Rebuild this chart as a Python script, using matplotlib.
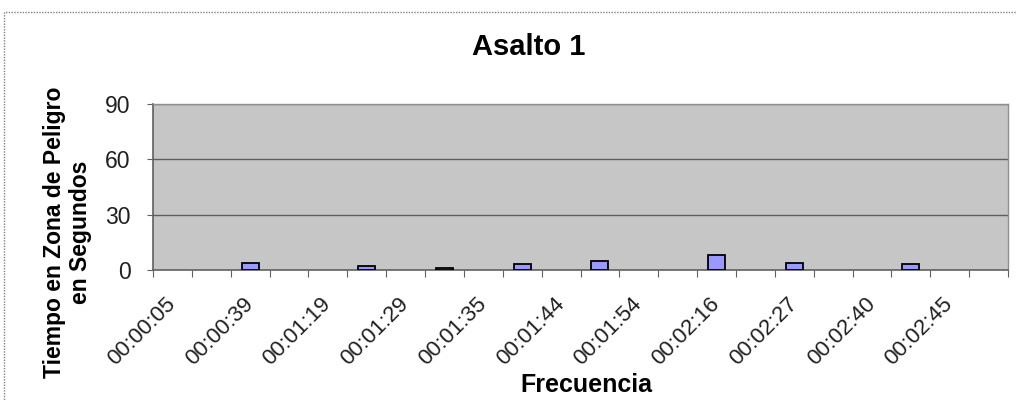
import matplotlib
matplotlib.use("Agg")
import matplotlib.pyplot as plt
from matplotlib.patches import Rectangle
import numpy as np

plt.rcParams['font.family'] = ['Liberation Sans', 'DejaVu Sans']

# 22 categories; only every other one is labelled in the reference
categories = ["00:00:05", "", "00:00:39", "", "00:01:19", "", "00:01:29", "",
              "00:01:35", "", "00:01:44", "", "00:01:54", "", "00:02:16", "",
              "00:02:27", "", "00:02:40", "", "00:02:45", ""]
values = [0, 0, 4, 0, 0, 2, 0, 1, 0, 3, 0, 5, 0, 0, 8, 0, 4, 0, 0, 3, 0, 0]
yticks = [0, 30, 60, 90]

W, H = 1017, 400
fig = plt.figure(figsize=(W / 100, H / 100), dpi=100)
fig.patch.set_facecolor('white')

# outer dotted chart frame
fig.patches.append(Rectangle((4 / W, -0.05), 1.1, (H - 12) / H + 0.05,
                             transform=fig.transFigure, fill=False,
                             edgecolor='#808080', linestyle=(0, (1, 1)),
                             linewidth=1.0))

left, right, top, bottom = 153, 1008, 104, 270
ax = fig.add_axes([left / W, (H - bottom) / H, (right - left) / W, (bottom - top) / H])
ax.set_facecolor('#C6C6C6')

n = len(categories)
x = np.arange(n)
vals = np.array(values, dtype=float)
mask = vals > 0
ax.bar(x[mask], vals[mask], width=0.44, color='#9999FF', edgecolor='black',
       linewidth=1.3, zorder=3)

ax.set_xlim(-0.5, n - 0.5)
ax.set_ylim(0, 90)
ax.set_yticks(yticks)
ax.set_yticklabels([str(v) for v in yticks], fontsize=16.5, color='#202020')
for v in yticks[1:]:
    ax.axhline(v, color='#5e5e5e', linewidth=1.0, zorder=1)

# tick marks at category boundaries, labels at centers
ax.set_xticks(np.arange(n + 1) - 0.5)
ax.set_xticklabels([])
ax.set_xticks(x, minor=True)
ax.set_xticklabels(categories, minor=True, rotation=45, ha='right', va='center',
                   rotation_mode='anchor', fontsize=16, color='#202020')
ax.tick_params(axis='x', which='major', length=5, color='#606060', direction='out')
ax.tick_params(axis='x', which='minor', length=0, pad=22)
ax.tick_params(axis='y', length=4, color='#606060', direction='out', pad=12)

for side in ['top', 'right']:
    ax.spines[side].set_color('#909090')
    ax.spines[side].set_linewidth(1.0)
for side in ['left', 'bottom']:
    ax.spines[side].set_color('#606060')
    ax.spines[side].set_linewidth(1.2)

fig.text(529 / W, 1 - 47 / H, "Asalto 1", ha='center', va='center',
         fontsize=21, fontweight='bold')
fig.text(586 / W, 1 - 385 / H, "Frecuencia", ha='center', va='center',
         fontsize=18, fontweight='bold')
fig.text(55 / W, 1 - 232 / H, "Tiempo en Zona de Peligro", rotation=90,
         ha='center', va='center', fontsize=16.5, fontweight='bold')
fig.text(80 / W, 1 - 232 / H, "en Segundos", rotation=90,
         ha='center', va='center', fontsize=16.5, fontweight='bold')

fig.savefig("out.png", dpi=100)
